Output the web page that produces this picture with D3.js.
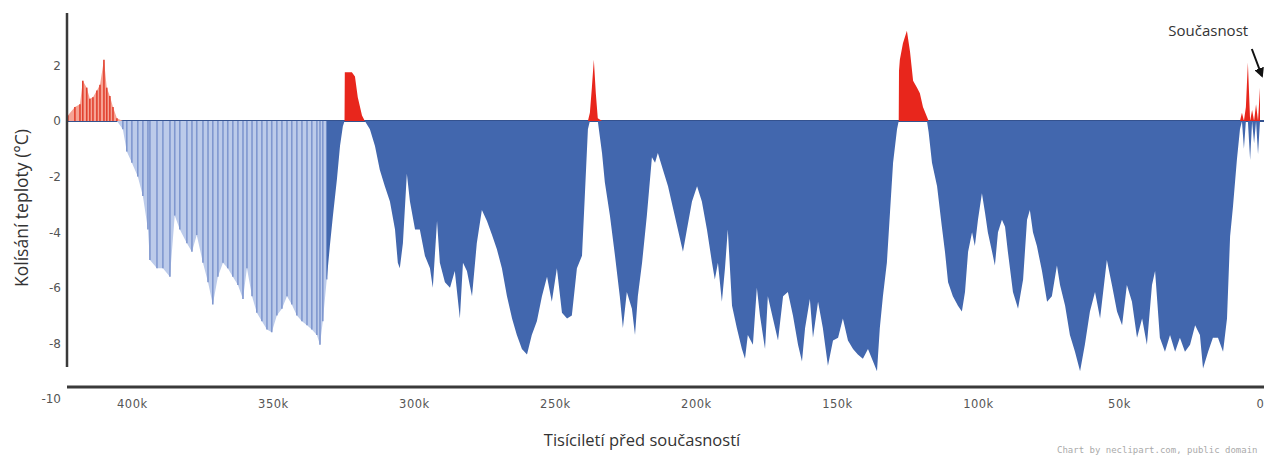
<!DOCTYPE html>
<html>
<head>
<meta charset="utf-8">
<script src="https://cdn.jsdelivr.net/npm/d3@7"></script>
<style>
  body { margin: 0; background: #fff; }
  svg { display: block; }
</style>
</head>
<body>
<svg id="graph"></svg>
<script>
// older, sparsely sampled part of the record (drawn as light stripes)
var agesOld = [423.0,422.7,420.2,418.4,417.4,416.0,414.9,413.8,412.4,411.3,409.9,408.9,407.8,406.7,405.3,
  403.2,401.8,400.0,397.9,396.1,394.3,393.6,391.1,389.0,386.5,384.8,383.0,380.5,378.7,377.0,374.8,373.0,
  371.3,369.5,367.7,366.0,364.2,362.4,360.6,359.2,357.4,355.7,353.9,352.1,350.4,348.6,346.8,345.0,343.3,
  341.5,339.7,337.9,336.2,334.4,333.3,332.3,330.9]
var tempsOld = [0.0,0.2,0.5,0.6,1.45,1.2,0.8,0.85,1.1,1.3,2.2,1.2,0.9,0.5,0.1,
  -0.3,-1.1,-1.5,-2.0,-2.7,-3.9,-5.0,-5.3,-5.3,-5.6,-3.4,-3.9,-4.4,-4.7,-4.1,-5.1,-5.8,
  -6.6,-5.6,-5.1,-5.3,-5.6,-5.9,-6.4,-5.3,-6.3,-6.9,-7.2,-7.5,-7.6,-7.0,-6.75,-6.3,-6.6,
  -7.0,-7.2,-7.35,-7.5,-7.7,-8.05,-7.2,-5.7]

// main part of the record (solid fill)
var ages = [330.9,329.8,328.7,327.3,326.2,325.2,324.6,324.5,323.4,322.0,320.9,319.9,318.4,317.4,315.6,313.8,
  312.1,310.3,308.5,306.7,305.7,305.0,303.9,302.5,301.4,299.6,297.9,296.1,294.3,293.3,291.8,290.8,289.0,
  287.2,285.5,283.7,282.6,281.2,279.4,277.7,275.9,274.1,272.3,270.6,268.8,267.0,265.2,263.5,261.7,259.9,
  258.2,256.4,254.6,252.8,251.1,249.3,247.5,245.7,244.0,242.2,240.4,239.4,238.3,237.6,236.9,236.2,235.5,
  234.8,233.3,232.3,230.5,228.7,227.0,225.9,224.5,222.7,221.6,220.6,219.1,217.4,215.6,214.5,213.5,211.7,
  209.9,208.2,206.4,204.6,203.2,201.4,199.6,197.9,196.1,194.3,193.3,192.2,190.8,189.7,188.7,187.2,185.5,
  183.7,182.6,181.6,179.8,178.4,177.3,175.5,174.5,172.7,170.9,169.1,167.4,165.6,163.8,162.4,161.3,159.6,
  158.5,156.7,155.0,153.2,151.4,149.6,147.9,146.1,144.3,142.6,140.8,139.0,137.2,135.8,134.8,133.7,132.3,
  131.2,130.1,128.7,128.1,128.0,127.7,126.6,125.2,124.1,123.0,121.6,120.6,119.5,118.1,117.5,116.3,114.5,
  112.8,111.7,110.6,108.9,107.1,105.7,104.6,103.5,102.1,101.1,100.0,98.6,97.5,96.5,95.0,94.0,92.9,91.5,
  90.4,89.4,87.6,85.8,84.0,82.6,81.6,80.5,79.1,77.3,75.5,73.8,72.0,70.9,69.1,67.4,65.6,63.8,62.1,60.3,
  58.5,56.7,54.3,52.5,50.7,48.9,47.2,45.4,43.6,41.8,40.1,38.3,37.2,35.5,33.7,31.9,30.1,28.4,26.6,24.8,
  23.0,21.3,20.2,18.4,16.7,14.9,13.1,11.7,10.6,9.6,8.2,7.1,6.4,5.7,5.0,4.3,3.5,2.8,2.1,1.4,0.7,0.0]
var temps = [-5.7,-4.5,-3.4,-2.1,-0.9,-0.2,0.0,1.75,1.75,1.75,1.6,0.85,0.2,0.0,-0.3,-0.9,
  -1.75,-2.35,-2.9,-3.9,-5.1,-5.3,-4.4,-1.9,-2.9,-3.9,-3.9,-4.85,-5.3,-6.0,-3.6,-5.1,-5.8,
  -6.0,-5.4,-7.1,-5.1,-5.4,-6.3,-4.4,-3.2,-3.6,-4.1,-4.6,-5.3,-6.3,-7.1,-7.7,-8.2,-8.4,
  -7.7,-7.2,-6.3,-5.6,-6.5,-5.3,-6.9,-7.1,-7.0,-5.3,-4.85,-2.7,-0.3,0.3,1.2,2.2,1.0,
  0.1,-1.15,-2.2,-3.4,-4.85,-6.3,-7.45,-6.15,-6.75,-7.7,-6.3,-5.1,-3.4,-1.3,-1.5,-1.15,-1.75,
  -2.35,-3.1,-3.9,-4.7,-3.9,-2.9,-2.35,-2.9,-3.9,-5.1,-5.7,-5.1,-6.5,-5.3,-3.9,-6.65,-7.45,
  -8.2,-8.55,-7.7,-8.05,-6.0,-7.0,-8.2,-6.3,-7.1,-7.9,-6.3,-6.15,-7.0,-8.05,-8.65,-7.45,-6.4,
  -7.8,-6.5,-7.45,-8.8,-7.9,-7.8,-7.1,-7.9,-8.2,-8.4,-8.55,-8.2,-8.65,-9.0,-7.45,-6.3,-5.1,
  -3.3,-1.5,-0.3,0.0,1.8,2.2,2.8,3.25,2.5,1.45,1.2,1.0,0.5,0.15,-0.4,-1.5,-2.35,
  -3.8,-4.7,-5.8,-6.3,-6.65,-6.85,-6.15,-4.7,-4.0,-4.5,-3.55,-2.6,-3.3,-4.0,-4.7,-5.2,-4.0,-3.55,
  -3.8,-4.7,-6.15,-6.75,-5.7,-3.55,-3.2,-4.0,-4.5,-5.4,-6.5,-6.3,-5.2,-5.9,-6.65,-7.7,-8.3,-9.0,-8.05,-6.85,
  -6.15,-7.1,-5.0,-5.9,-6.85,-7.35,-5.9,-6.5,-7.8,-7.1,-8.05,-5.9,-5.4,-7.8,-8.3,-7.7,-8.3,-7.8,-8.3,-8.05,
  -7.35,-7.7,-8.9,-8.3,-7.8,-7.8,-8.3,-7.1,-4.15,-3.1,-1.4,-0.3,0.3,-1.0,0.5,2.1,-1.4,0.4,-0.8,0.6,-1.2,1.2]

var xTicks = [400,350,300,250,200,150,100,50,0]
var yTicks = [2,0,-2,-4,-6,-8,-10]
var xTitle = "Tisíciletí před současností"
var yTitle = "Kolísání teploty (°C)"
var noteText = "Současnost"
var creditText = "Chart by neclipart.com, public domain"

var screen = {width:1264, height:455}

var svg = d3.select("#graph")
  .attr("width", screen.width)
  .attr("height", screen.height)

var xScale = d3.scaleLinear().domain([423,0]).range([67,1260])
var yScale = d3.scaleLinear().domain([0,-10]).range([121,399])

var oldData = agesOld.map(function(a,i){ return {age:a, t:tempsOld[i]} })
var mainData = ages.map(function(a,i){ return {age:a, t:temps[i]} })

var posArea = d3.area()
  .x(function(d){ return xScale(d.age) })
  .y0(yScale(0))
  .y1(function(d){ return yScale(Math.max(d.t,0)) })
var negArea = d3.area()
  .x(function(d){ return xScale(d.age) })
  .y0(yScale(0))
  .y1(function(d){ return yScale(Math.min(d.t,0)) })

// zero line
svg.append("line")
  .attr("x1", xScale(423)).attr("x2", screen.width)
  .attr("y1", yScale(0)).attr("y2", yScale(0))
  .attr("stroke", "#34528f").attr("stroke-width", 2)

// old part: light fill + stripes
svg.append("path").datum(oldData).attr("d", negArea).attr("fill", "#bccbea")
svg.append("path").datum(oldData).attr("d", posArea).attr("fill", "#f6a394")
svg.selectAll(".stripe")
  .data(oldData)
  .enter()
  .append("line")
  .attr("class", "stripe")
  .attr("x1", function(d){ return xScale(d.age) })
  .attr("x2", function(d){ return xScale(d.age) })
  .attr("y1", yScale(0))
  .attr("y2", function(d){ return yScale(d.t) })
  .attr("stroke", function(d){ return d.t > 0 ? "#e2412f" : "#7f97cf" })
  .attr("stroke-width", 1.6)

// main part
svg.append("path").datum(mainData).attr("d", negArea).attr("fill", "#4267ae")
svg.append("path").datum(mainData).attr("d", posArea).attr("fill", "#e8261c")

// axes
svg.append("line")
  .attr("x1", 67).attr("x2", 67)
  .attr("y1", 13).attr("y2", 367)
  .attr("stroke", "#3a3a3a").attr("stroke-width", 2.5)
svg.append("line")
  .attr("x1", 67).attr("x2", screen.width)
  .attr("y1", 387).attr("y2", 387)
  .attr("stroke", "#3a3a3a").attr("stroke-width", 3)

var yAxis = svg.append("g")
  .attr("transform", "translate(64,0)")
  .call(d3.axisLeft(yScale).tickValues(yTicks).tickSize(0).tickPadding(3)
    .tickFormat(function(d){ return String(d) }))
yAxis.select(".domain").remove()
yAxis.selectAll("text")
  .attr("font-family", "DejaVu Sans").attr("font-size", 12).attr("fill", "#555")

var xAxis = svg.append("g")
  .attr("transform", "translate(0,387)")
  .call(d3.axisBottom(xScale).tickValues(xTicks).tickSize(0).tickPadding(13)
    .tickFormat(function(d){ return d ? d + "k" : "0" }))
xAxis.select(".domain").remove()
xAxis.selectAll("text")
  .attr("font-family", "DejaVu Sans").attr("font-size", 11.5).attr("fill", "#555")
  .attr("letter-spacing", 0.5)

// titles
svg.append("text")
  .attr("transform", "translate(28,208) rotate(-90)")
  .attr("text-anchor", "middle")
  .attr("font-family", "Open Sans").attr("font-size", 17.5).attr("fill", "#333")
  .text(yTitle)
svg.append("text")
  .attr("x", 642).attr("y", 446)
  .attr("text-anchor", "middle")
  .attr("font-family", "Open Sans").attr("font-size", 16.5).attr("fill", "#333")
  .text(xTitle)

// annotation
svg.append("defs").append("marker")
  .attr("id", "arrow").attr("viewBox", "0 0 10 10")
  .attr("refX", 8).attr("refY", 5)
  .attr("markerWidth", 5).attr("markerHeight", 5)
  .attr("orient", "auto")
  .append("path").attr("d", "M0,0L10,5L0,10z").attr("fill", "#111")
svg.append("text")
  .attr("x", xScale(4.2)).attr("y", 36)
  .attr("text-anchor", "end")
  .attr("font-family", "Open Sans").attr("font-size", 15).attr("fill", "#333")
  .text(noteText)
svg.append("line")
  .attr("x1", xScale(2.9)).attr("y1", 49)
  .attr("x2", xScale(-0.7)).attr("y2", 76)
  .attr("stroke", "#111").attr("stroke-width", 2)
  .attr("marker-end", "url(#arrow)")

svg.append("text")
  .attr("x", 1057).attr("y", 453)
  .attr("font-family", "DejaVu Sans Mono").attr("font-size", 9).attr("fill", "#aaa")
  .text(creditText)
</script>
</body>
</html>
